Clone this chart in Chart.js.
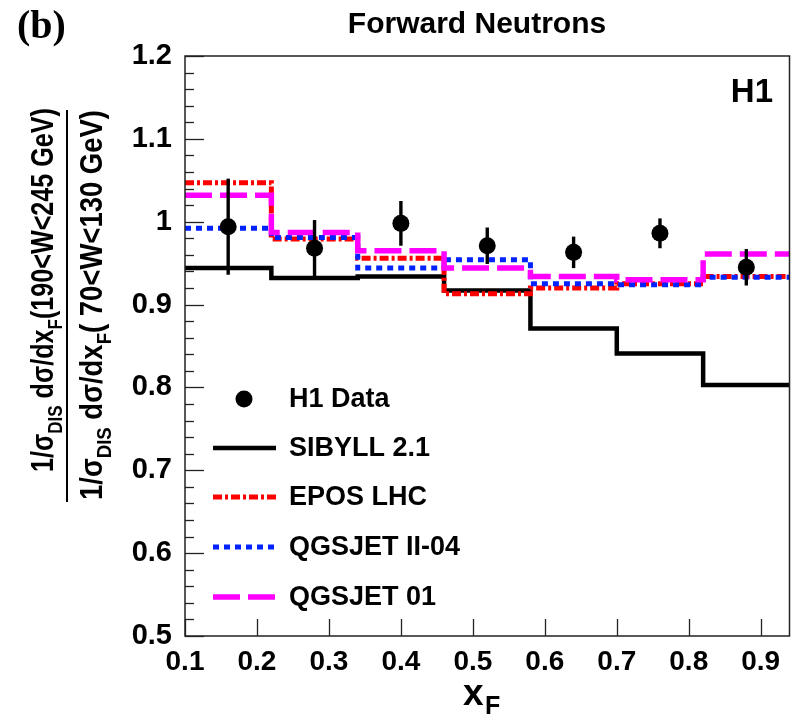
<!DOCTYPE html>
<html><head><meta charset="utf-8">
<script src="https://cdn.jsdelivr.net/npm/chart.js@4/dist/chart.umd.min.js"></script>
<style>html,body{margin:0;padding:0;background:#fff;} #wrap{width:798px;height:717px;position:relative;}</style>
</head><body><div id="wrap"><canvas id="c" width="798" height="717"></canvas></div>
<script>
// ---- data ----
const binEdges  = [0.10, 0.22, 0.34, 0.46, 0.58, 0.70, 0.82, 0.94];
const xCenters  = [0.16, 0.28, 0.40, 0.52, 0.64, 0.76, 0.88];
const h1Data    = [0.994, 0.968, 0.998, 0.971, 0.963, 0.986, 0.945];
const h1Err     = [0.058, 0.034, 0.027, 0.022, 0.019, 0.018, 0.022];
const sibyll    = [0.944, 0.932, 0.934, 0.917, 0.871, 0.841, 0.803];
const eposLhc   = [1.047, 0.979, 0.956, 0.913, 0.920, 0.925, 0.934];
const qgsjetII  = [0.992, 0.981, 0.944, 0.954, 0.925, 0.924, 0.933];
const qgsjet01  = [1.032, 0.987, 0.965, 0.944, 0.934, 0.930, 0.961];
const xTickValues = [0.1, 0.2, 0.3, 0.4, 0.5, 0.6, 0.7, 0.8, 0.9];
const xTickLabels = ['0.1','0.2','0.3','0.4','0.5','0.6','0.7','0.8','0.9'];
const yTickValues = [0.5, 0.6, 0.7, 0.8, 0.9, 1.0, 1.1, 1.2];
const yTickLabels = ['0.5','0.6','0.7','0.8','0.9','1','1.1','1.2'];
const seriesNames = ['H1 Data','SIBYLL 2.1','EPOS LHC','QGSJET II-04','QGSJET 01'];
const titleText = 'Forward Neutrons';

// ---- build step points for the histograms ----
function steps(vals){ return binEdges.map((e,i)=>({x:e, y: vals[Math.min(i, vals.length-1)]})); }

const styles = {
  'SIBYLL 2.1':   {color:'#000000', width:4.5, dash:[]},
  'EPOS LHC':     {color:'#ff0000', width:5,   dash:[9,3,3,3]},
  'QGSJET II-04': {color:'#0022ff', width:5,   dash:[6,5]},
  'QGSJET 01':    {color:'#ff00ff', width:5.5, dash:[27,8]}
};
function lineDs(name, vals, order){
  const s = styles[name];
  return {label:name, data:steps(vals), stepped:true, borderColor:s.color, borderWidth:s.width,
          borderDash:s.dash, borderCapStyle:'butt', pointRadius:0, fill:false, order:order, tension:0};
}

const SANS = '"Liberation Sans", Arial, Helvetica, sans-serif';

const decor = {
  id:'decor',
  afterDatasetsDraw(chart){
    const ctx = chart.ctx, xs = chart.scales.x, ys = chart.scales.y;
    ctx.save();
    ctx.strokeStyle = '#000'; ctx.lineWidth = 3.4;
    xCenters.forEach((xv,i)=>{
      const px = xs.getPixelForValue(xv);
      ctx.beginPath();
      ctx.moveTo(px, ys.getPixelForValue(h1Data[i]-h1Err[i]));
      ctx.lineTo(px, ys.getPixelForValue(h1Data[i]+h1Err[i]));
      ctx.stroke();
    });
    ctx.restore();
  },
  afterDraw(chart){
    const ctx = chart.ctx, xs = chart.scales.x, ys = chart.scales.y, a = chart.chartArea;
    ctx.save();
    // frame
    ctx.strokeStyle = '#222'; ctx.lineWidth = 1.5;
    ctx.strokeRect(a.left, a.top, a.right-a.left, a.bottom-a.top);
    // y ticks (major + minor), drawn inward
    ctx.lineWidth = 1.3; ctx.strokeStyle = '#222';
    for (let k=0; k<=35; k++){
      const v = 0.5 + k*0.02;
      const py = Math.round(ys.getPixelForValue(v))+0.5;
      const major = (k % 5 === 0);
      ctx.beginPath(); ctx.moveTo(a.left, py); ctx.lineTo(a.left + (major?19:9), py); ctx.stroke();
    }
    // x ticks
    xTickValues.forEach(v=>{
      const px = Math.round(xs.getPixelForValue(v))+0.5;
      ctx.beginPath(); ctx.moveTo(px, a.bottom); ctx.lineTo(px, a.bottom-17); ctx.stroke();
    });

    ctx.fillStyle = '#000';
    // title
    ctx.font = 'bold 30px ' + SANS; ctx.textAlign = 'center'; ctx.textBaseline = 'alphabetic';
    ctx.fillText(titleText, 477, 33);
    // panel tag
    ctx.font = 'bold 40px "Liberation Serif", "Times New Roman", serif'; ctx.textAlign = 'left';
    ctx.fillText('(b)', 17, 38);
    // H1 label
    ctx.font = 'bold 33px ' + SANS; ctx.textAlign = 'right';
    ctx.fillText('H1', 773, 102);
    // x axis title
    ctx.textAlign = 'left';
    ctx.font = 'bold 37px ' + SANS; ctx.fillText('x', 463, 705);
    ctx.font = 'bold 25px ' + SANS; ctx.fillText('F', 485, 714);

    // y axis title (fraction)
    function rich(parts, size){
      return parts.map(p=>({t:p.t, sub:!!p.sub, font:'bold '+(p.sub?Math.round(size*0.68):size)+'px '+SANS}));
    }
    function drawRot(parts, size, bx, startY, targetLen){
      const rp = rich(parts, size);
      let w = 0; rp.forEach(p=>{ ctx.font = p.font; p.w = ctx.measureText(p.t).width; w += p.w; });
      const sx = targetLen / w;
      ctx.save();
      ctx.translate(bx, startY); ctx.rotate(-Math.PI/2); ctx.scale(sx, 1);
      ctx.textAlign = 'left'; ctx.textBaseline = 'alphabetic';
      let x = 0;
      rp.forEach(p=>{ ctx.font = p.font; ctx.fillText(p.t, x, p.sub ? size*0.28 : 0); x += p.w; });
      ctx.restore();
    }
    drawRot([{t:'1/σ'},{t:'DIS',sub:true},{t:' dσ/dx'},{t:'F',sub:true},{t:'(190<W<245 GeV)'}], 31, 53, 472, 364);
    drawRot([{t:'1/σ'},{t:'DIS',sub:true},{t:' dσ/dx'},{t:'F',sub:true},{t:'( 70<W<130 GeV)'}], 31, 102, 500, 390);
    ctx.strokeStyle = '#000'; ctx.lineWidth = 2;
    ctx.beginPath(); ctx.moveTo(67, 110); ctx.lineTo(67, 502); ctx.stroke();

    // legend
    const rowY = [399, 448, 497, 547, 597];
    ctx.font = 'bold 27px ' + SANS; ctx.textAlign = 'left'; ctx.textBaseline = 'middle';
    seriesNames.forEach((n,i)=>{
      const y = rowY[i];
      if (i === 0){
        ctx.beginPath(); ctx.arc(244, y, 8.5, 0, Math.PI*2); ctx.fillStyle = '#000'; ctx.fill();
      } else {
        const s = styles[n];
        ctx.save(); ctx.strokeStyle = s.color; ctx.lineWidth = s.width; ctx.setLineDash(s.dash); ctx.lineCap='butt';
        ctx.beginPath(); ctx.moveTo(213, y); ctx.lineTo(276, y); ctx.stroke(); ctx.restore();
      }
      ctx.fillStyle = '#000';
      ctx.fillText(n, 289, y+1);
    });
    ctx.restore();
  }
};

new Chart(document.getElementById('c'), {
  type:'line',
  data:{
    datasets:[
      {type:'scatter', label:'H1 Data', data: xCenters.map((x,i)=>({x:x, y:h1Data[i]})), pointRadius:8.5,
       pointHoverRadius:8.5, backgroundColor:'#000', borderColor:'#000', borderWidth:0, showLine:false, order:0},
      lineDs('QGSJET 01', qgsjet01, 1),
      lineDs('QGSJET II-04', qgsjetII, 2),
      lineDs('EPOS LHC', eposLhc, 3),
      lineDs('SIBYLL 2.1', sibyll, 4)
    ]
  },
  options:{
    responsive:false, animation:false, devicePixelRatio:1,
    layout:{padding:{top:56, right:5, bottom:0, left:0}},
    plugins:{legend:{display:false}, title:{display:false}, tooltip:{enabled:false}},
    events:[],
    scales:{
      x:{type:'linear', min:0.1, max:0.94,
         grid:{display:false, drawTicks:false}, border:{display:false},
         afterBuildTicks(s){ s.ticks = xTickValues.map(v=>({value:v})); },
         afterFit(s){ s.height = 81; },
         ticks:{padding:9, color:'#000', font:{family:SANS, size:28, weight:'bold'},
                maxRotation:0, autoSkip:false,
                callback:(v,i)=> xTickLabels[i]}},
      y:{type:'linear', min:0.5, max:1.2,
         grid:{display:false, drawTicks:false}, border:{display:false},
         afterBuildTicks(s){ s.ticks = yTickValues.map(v=>({value:v})); },
         afterFit(s){ s.width = 185; },
         ticks:{padding:13, color:'#000', font:{family:SANS, size:29, weight:'bold'}, autoSkip:false,
                callback:(v,i)=> yTickLabels[i]}}
    }
  },
  plugins:[decor]
});
</script>
</body></html>
